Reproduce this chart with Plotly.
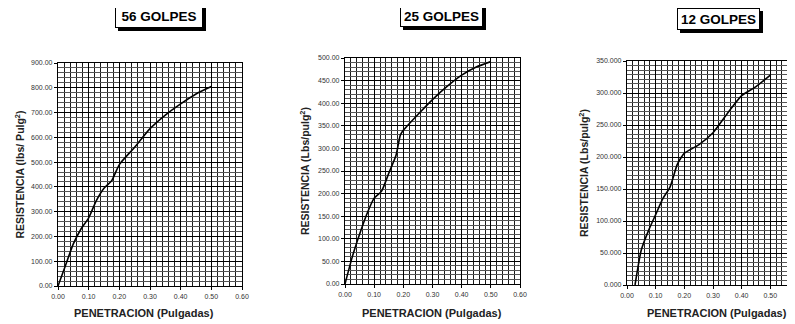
import plotly.graph_objects as go

OFF = 8  # page body margin
W, H = 795 - OFF, 324 - OFF

# ---- data ----
pen_56 = [0.0, 0.025, 0.05, 0.075, 0.10, 0.125, 0.15, 0.175, 0.20, 0.25, 0.30, 0.35, 0.40, 0.45, 0.50]
res_56 = [0, 85, 170, 230, 275, 345, 395, 425, 490, 560, 635, 690, 735, 775, 805]

pen_25 = [0.0, 0.025, 0.05, 0.075, 0.10, 0.125, 0.15, 0.175, 0.19, 0.20, 0.25, 0.30, 0.35, 0.40, 0.45, 0.50]
res_25 = [0, 60, 110, 155, 190, 205, 245, 285, 330, 340, 375, 408, 437, 462, 480, 492]

pen_12 = [0.028, 0.05, 0.075, 0.10, 0.125, 0.15, 0.175, 0.19, 0.20, 0.25, 0.30, 0.35, 0.40, 0.45, 0.50]
res_12 = [0, 55, 85, 110, 135, 153, 188, 200, 206, 219, 238, 268, 296, 310, 328]

titles = ["56 GOLPES", "25 GOLPES", "12 GOLPES"]
y_titles = ["RESISTENCIA (lbs/ Pulg<sup>2</sup>)", "RESISTENCIA (Lbs/pulg<sup>2</sup>)", "RESISTENCIA (Lbs/pulg<sup>2</sup>)"]
x_title = "PENETRACION (Pulgadas)"

# ---- layout geometry (window pixels) ----
plots = [
    dict(x0=58, x1=242, y0=63, y1=286, xr=[0, 0.6], yr=[0, 900], ydt=100, ymin=20, yfmt=".2f"),
    dict(x0=345, x1=520, y0=58, y1=284, xr=[0, 0.6], yr=[0, 500], ydt=50, ymin=10, yfmt=".2f"),
    dict(x0=627, x1=795, y0=61, y1=285, xr=[0, 0.6 * 168 / 172], yr=[0, 350], ydt=50, ymin=50 / 7, yfmt=".3f"),
]
title_boxes = [(115, 203, 5, 28), (400, 483, 5, 27), (677, 760, 8, 30)]
ytitle_x = [19, 304, 583]
xtitle_x = [144, 432, 717]

def px(x):
    return (x - OFF) / W

def py(y):
    return 1 - (y - OFF) / H

fig = go.Figure()
series = [(pen_56, res_56), (pen_25, res_25), (pen_12, res_12)]

layout = dict(
    width=W, height=H,
    margin=dict(l=0, r=0, t=0, b=0, autoexpand=False),
    paper_bgcolor="white", plot_bgcolor="white",
    showlegend=False,
    font=dict(family="Liberation Sans, Arial, sans-serif", color="black"),
)

annotations = []
shapes = []

for i, (p, (xs, ys)) in enumerate(zip(plots, series)):
    n = "" if i == 0 else str(i + 1)
    fig.add_trace(go.Scatter(
        x=xs, y=ys, mode="lines",
        line=dict(color="black", width=1.6, shape="spline", smoothing=0.6),
        xaxis="x" + n, yaxis="y" + n, hoverinfo="skip",
    ))
    layout["xaxis" + n] = dict(
        domain=[max(0, px(p["x0"])), min(1, px(p["x1"]))], range=p["xr"], anchor="y" + n,
        dtick=0.1, tick0=0, tickformat=".2f", automargin=False,
        showgrid=True, gridcolor="black", gridwidth=1,
        minor=dict(dtick=0.02, tick0=0, showgrid=True, gridcolor="#1a1a1a", gridwidth=1.2),
        showline=True, linecolor="black", linewidth=1.2, mirror=True,
        ticks="outside", ticklen=3, tickcolor="black",
        tickfont=dict(size=7, color="#333333"), zeroline=False, fixedrange=True,
    )
    layout["yaxis" + n] = dict(
        domain=[py(p["y1"]), py(p["y0"])], range=p["yr"], anchor="x" + n,
        dtick=p["ydt"], tick0=0, tickformat=p["yfmt"], automargin=False,
        showgrid=True, gridcolor="black", gridwidth=1.2,
        minor=dict(dtick=p["ymin"], tick0=0, showgrid=True, gridcolor="#555555", gridwidth=1.2),
        showline=True, linecolor="black", linewidth=1.2, mirror=True,
        ticks="outside", ticklen=3, tickcolor="black",
        tickfont=dict(size=7, color="#333333"), zeroline=False, fixedrange=True,
    )
    # y axis title
    annotations.append(dict(
        text="<b>" + y_titles[i] + "</b>", textangle=-90,
        x=px(ytitle_x[i]), y=py((p["y0"] + p["y1"]) / 2),
        xref="paper", yref="paper", showarrow=False,
        xanchor="center", yanchor="middle",
        font=dict(size=10.5, color="#222222"),
    ))
    # x axis title
    annotations.append(dict(
        text="<b>" + x_title + "</b>",
        x=px(xtitle_x[i]), y=py(313),
        xref="paper", yref="paper", showarrow=False,
        xanchor="center", yanchor="middle",
        font=dict(size=11, color="#222222"),
    ))
    # boxed title with shadow
    bx0, bx1, by0, by1 = title_boxes[i]
    shapes.append(dict(
        type="rect", xref="paper", yref="paper",
        x0=px(bx0 + 3), x1=px(bx1 + 3), y0=py(by1 + 3), y1=py(by0 + 3),
        fillcolor="black", line=dict(width=0), layer="above",
    ))
    annotations.append(dict(
        text="<b>" + titles[i] + "</b>",
        x=px((bx0 + bx1) / 2), y=py((by0 + by1) / 2),
        xref="paper", yref="paper", showarrow=False,
        width=bx1 - bx0 - 2, height=by1 - by0 - 2,
        bgcolor="white", bordercolor="black", borderwidth=1, borderpad=0,
        font=dict(size=13.5, color="black"),
        xanchor="center", yanchor="middle",
    ))

layout["annotations"] = annotations
layout["shapes"] = shapes
fig.update_layout(**layout)
fig.write_html("out.html")
